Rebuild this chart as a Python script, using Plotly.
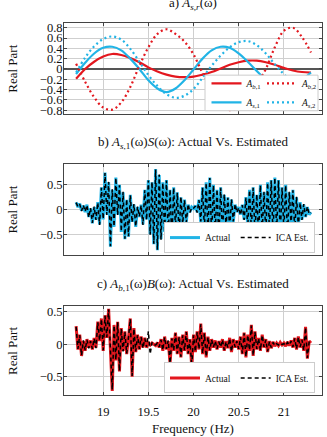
import plotly.graph_objects as go

# ---------------- data ----------------
# Panel a: mixing coefficients, sampled every 0.1 Hz from 18.7 Hz
FREQ_A_START, FREQ_A_STEP = 18.7, 0.1
A_B1 = [-0.19, 0.00, 0.14, 0.24, 0.29, 0.27, 0.21, 0.13, 0.03, -0.05,
        -0.11, -0.15, -0.16, -0.15, -0.11, -0.06, 0.01, 0.08, 0.13, 0.16,
        0.16, 0.13, 0.08, 0.02, -0.03, -0.06, -0.07]
A_B2 = [0.10, -0.25, -0.55, -0.75, -0.79, -0.65, -0.35, 0.06, 0.42, 0.68,
        0.77, 0.68, 0.53, 0.28, -0.08, -0.38, -0.65, -0.80, -0.74, -0.55,
        -0.30, 0.00, 0.42, 0.74, 0.80, 0.62, 0.32]
A_S1 = [-0.10, 0.12, 0.30, 0.41, 0.43, 0.36, 0.20, 0.00, -0.22, -0.38,
        -0.45, -0.38, -0.22, -0.01, 0.20, 0.36, 0.43, 0.41, 0.30, 0.14,
        -0.04, -0.22, -0.38, -0.45, -0.36, -0.22, -0.07]
A_S2 = [-0.07, 0.22, 0.44, 0.58, 0.63, 0.57, 0.39, 0.14, -0.12, -0.33,
        -0.49, -0.56, -0.52, -0.39, -0.17, 0.06, 0.26, 0.42, 0.52, 0.54,
        0.46, 0.30, 0.09, -0.10, -0.26, -0.30, -0.15]

# Panels b, c: spectra sampled every 0.02 Hz from 18.7 Hz
FREQ_N_START, FREQ_N_STEP = 18.7, 0.02
B_ACTUAL = [0.15, 0.05, 0.12, -0.02, 0.08,
            -0.05, 0.10, -0.15, 0.02, -0.28,
            0.05, -0.20, 0.15, -0.30, 0.45,
            -0.20, 0.75, -0.10, 0.55, -0.75,
            0.40, -0.35, 0.65, -0.10, 0.50,
            -0.45, 0.35, -0.60, 0.20, -0.55,
            0.30, -0.25, 0.10, -0.35, 0.05,
            -0.15, 0.10, -0.30, 0.40, -0.20,
            0.60, -0.50, 0.55, -0.70, 0.82,
            -0.82, 0.70, -0.60, 0.55, -0.45,
            0.60, -0.55, 0.40, -0.65, 0.45,
            -0.35, 0.35, -0.50, 0.25, -0.30,
            0.20, -0.25, 0.10, -0.05, 0.05,
            0.02, 0.08, -0.05, 0.20, -0.25,
            0.45, -0.40, 0.55, -0.50, 0.65,
            -0.55, 0.50, -0.45, 0.40, -0.60,
            0.45, -0.50, 0.30, -0.35, 0.25,
            -0.40, 0.20, -0.25, 0.10, -0.05,
            0.05, -0.10, 0.10, -0.20, 0.25,
            -0.35, 0.40, -0.40, 0.45, -0.50,
            0.30, -0.55, 0.50, -0.45, 0.35,
            -0.50, 0.55, -0.40, 0.60, -0.55,
            0.65, -0.45, 0.60, -0.50, 0.45,
            -0.40, 0.50, -0.55, 0.35, -0.30,
            0.40, -0.45, 0.25, -0.35, 0.15,
            -0.20, 0.10, -0.15, 0.05, -0.10,
            -0.05]
B_EST = [0.14, 0.06, 0.11, -0.03, 0.09,
         -0.04, 0.09, -0.16, 0.03, -0.27,
         0.06, -0.21, 0.14, -0.31, 0.44,
         -0.19, 0.74, -0.11, 0.56, -0.74,
         0.41, -0.34, 0.64, -0.11, 0.49,
         -0.44, 0.36, -0.59, 0.21, -0.54,
         0.29, -0.26, 0.11, -0.34, 0.06,
         -0.14, 0.09, -0.31, 0.39, -0.21,
         0.59, -0.51, 0.56, -0.69, 0.81,
         -0.81, 0.71, -0.61, 0.54, -0.46,
         0.59, -0.54, 0.41, -0.64, 0.44,
         -0.36, 0.34, -0.49, 0.26, -0.29,
         0.19, -0.26, 0.11, -0.06, 0.04,
         0.03, 0.07, -0.06, 0.19, -0.24,
         0.44, -0.41, 0.54, -0.51, 0.64,
         -0.54, 0.49, -0.46, 0.41, -0.59,
         0.44, -0.51, 0.31, -0.34, 0.24,
         -0.39, 0.21, -0.24, 0.11, -0.06,
         0.04, -0.11, 0.09, -0.21, 0.24,
         -0.34, 0.39, -0.41, 0.44, -0.49,
         0.31, -0.54, 0.49, -0.46, 0.36,
         -0.49, 0.54, -0.41, 0.59, -0.54,
         0.64, -0.46, 0.59, -0.51, 0.44,
         -0.41, 0.49, -0.54, 0.36, -0.31,
         0.39, -0.44, 0.26, -0.34, 0.14,
         -0.21, 0.11, -0.14, 0.06, -0.09,
         -0.06]
C_ACTUAL = [0.28, -0.08, 0.15, -0.18, 0.05,
            -0.10, 0.08, -0.05, 0.06, -0.08,
            0.10, -0.05, 0.35, 0.05, 0.40,
            -0.10, 0.45, 0.10, 0.55, -0.15,
            -0.72, 0.30, -0.25, 0.35, -0.42,
            0.25, -0.10, 0.20, -0.15, 0.10,
            0.40, -0.50, 0.25, -0.12, 0.15,
            -0.08, 0.12, -0.05, 0.10, -0.05,
            0.02, -0.01, 0.02, 0.00, -0.02,
            0.03, -0.05, 0.08, -0.10, 0.12,
            -0.08, 0.05, -0.30, 0.10, -0.10,
            0.18, -0.15, 0.12, -0.20, 0.15,
            -0.10, 0.20, -0.15, 0.08, -0.35,
            0.15, -0.12, 0.20, -0.08, 0.32,
            -0.15, 0.18, -0.20, 0.12, -0.10,
            0.08, -0.05, 0.06, -0.08, 0.05,
            -0.05, 0.08, -0.10, 0.05, -0.06,
            0.10, -0.12, 0.08, -0.05, 0.06,
            -0.08, 0.12, -0.15, 0.18, -0.20,
            0.15, -0.10, 0.30, -0.18, 0.20,
            -0.08, 0.10, -0.10, 0.15, -0.05,
            0.08, -0.12, 0.05, -0.06, 0.04,
            -0.03, 0.02, -0.02, 0.03, -0.01,
            0.02, -0.03, 0.04, -0.02, 0.06,
            -0.05, 0.10, -0.08, 0.12, -0.05,
            0.08, -0.10, 0.27, -0.22, 0.05,
            0.02]
C_EST = [0.27, -0.07, 0.14, -0.17, 0.06,
         -0.09, 0.07, -0.06, 0.05, -0.07,
         0.09, -0.06, 0.34, 0.06, 0.39,
         -0.09, 0.44, 0.11, 0.54, -0.14,
         -0.70, 0.29, -0.24, 0.34, -0.41,
         0.24, -0.11, 0.19, -0.14, 0.11,
         0.39, -0.49, 0.24, -0.11, 0.14,
         -0.07, 0.11, -0.06, 0.09, -0.04,
         0.20, -0.15, 0.03, -0.01, -0.01,
         0.02, -0.04, 0.07, -0.09, 0.11,
         -0.07, 0.06, -0.29, 0.09, -0.09,
         0.17, -0.14, 0.11, -0.19, 0.14,
         -0.09, 0.19, -0.14, 0.07, -0.34,
         0.14, -0.11, 0.19, -0.07, 0.31,
         -0.14, 0.17, -0.19, 0.11, -0.09,
         0.07, -0.04, 0.05, -0.07, 0.04,
         -0.04, 0.07, -0.09, 0.04, -0.05,
         0.09, -0.11, 0.07, -0.04, 0.05,
         -0.07, 0.11, -0.14, 0.17, -0.19,
         0.14, -0.09, 0.29, -0.17, 0.19,
         -0.07, 0.09, -0.09, 0.14, -0.04,
         0.07, -0.11, 0.04, -0.05, 0.03,
         -0.02, 0.01, -0.01, 0.02, 0.00,
         0.01, -0.02, 0.03, -0.01, 0.05,
         -0.04, 0.09, -0.07, 0.11, -0.04,
         0.07, -0.09, 0.26, -0.21, 0.04,
         0.01]

X_TICKS = [19, 19.5, 20, 20.5, 21]


def freq_grid(start, step, n):
    return [round(start + step * i, 4) for i in range(n)]


FA = freq_grid(FREQ_A_START, FREQ_A_STEP, len(A_B1))
FN = freq_grid(FREQ_N_START, FREQ_N_STEP, len(B_ACTUAL))

# ---------------- style ----------------
SERIF = "Liberation Serif"
RED = "#E3171E"
CYAN = "#21B4E6"
H = 437.0
L_M, R_M = 64, 5
PW = 327 - L_M - R_M


def py(p):  # pixel row -> paper fraction
    return 1 - p / H


def px(p):  # pixel column -> paper fraction
    return (p - L_M) / PW


fig = go.Figure()

# panel a
fig.add_trace(go.Scatter(x=FA, y=A_B1, mode="lines", name="<i>A</i><sub><i>b</i>,1</sub>",
                         line=dict(color=RED, width=2.2, shape="spline"),
                         xaxis="x", yaxis="y", legend="legend"))
fig.add_trace(go.Scatter(x=FA, y=A_S1, mode="lines", name="<i>A</i><sub><i>s</i>,1</sub>",
                         line=dict(color=CYAN, width=2.2, shape="spline"),
                         xaxis="x", yaxis="y", legend="legend"))
fig.add_trace(go.Scatter(x=FA, y=A_B2, mode="lines", name="<i>A</i><sub><i>b</i>,2</sub>",
                         line=dict(color=RED, width=2.2, shape="spline", dash="2px,3px"),
                         xaxis="x", yaxis="y", legend="legend4"))
fig.add_trace(go.Scatter(x=FA, y=A_S2, mode="lines", name="<i>A</i><sub><i>s</i>,2</sub>",
                         line=dict(color=CYAN, width=2.2, shape="spline", dash="2px,3px"),
                         xaxis="x", yaxis="y", legend="legend4"))

# panel b
fig.add_trace(go.Scatter(x=FN, y=B_ACTUAL, mode="lines", name="Actual",
                         line=dict(color=CYAN, width=3),
                         xaxis="x2", yaxis="y2", legend="legend2"))
fig.add_trace(go.Scatter(x=FN, y=B_EST, mode="lines", name="ICA Est.",
                         line=dict(color="black", width=1.5, dash="4px,3px"),
                         xaxis="x2", yaxis="y2", legend="legend2"))

# panel c
fig.add_trace(go.Scatter(x=FN, y=C_ACTUAL, mode="lines", name="Actual",
                         line=dict(color=RED, width=3),
                         xaxis="x3", yaxis="y3", legend="legend3"))
fig.add_trace(go.Scatter(x=FN, y=C_EST, mode="lines", name="ICA Est.",
                         line=dict(color="black", width=1.5, dash="4px,3px"),
                         xaxis="x3", yaxis="y3", legend="legend3"))

tickfont = dict(family=SERIF, size=12.5, color="#111")
common = dict(showline=True, linecolor="#444", linewidth=1, mirror="ticks",
              ticks="inside", ticklen=3, tickcolor="#444",
              showgrid=True, gridcolor="#cfcfcf", gridwidth=1,
              zeroline=False, tickfont=tickfont)
ycommon = dict(common, ticklabelstandoff=-2)
XR = [18.566, 21.422]

fig.update_layout(
    width=327, height=437,
    margin=dict(l=L_M, r=R_M, t=0, b=0),
    paper_bgcolor="white", plot_bgcolor="white",
    font=dict(family=SERIF, size=12.5, color="#111"),
    xaxis=dict(domain=[0, 1], range=XR, tickvals=X_TICKS, showticklabels=False,
               anchor="y", **common),
    yaxis=dict(domain=[py(113.3), py(21.7)], range=[-0.875, 0.883], dtick=0.2, tick0=0,
               anchor="x", **{**ycommon, "zeroline": True, "zerolinecolor": "#555",
                              "zerolinewidth": 1.5}),
    xaxis2=dict(domain=[0, 1], range=XR, tickvals=X_TICKS, showticklabels=False,
                anchor="y2", **common),
    yaxis2=dict(domain=[py(256), py(164)], range=[-0.92, 0.92], dtick=0.5, tick0=0,
                anchor="x2", **ycommon),
    xaxis3=dict(domain=[0, 1], range=XR, tickvals=X_TICKS, showticklabels=True,
                anchor="y3", ticklabelstandoff=5, **common),
    yaxis3=dict(domain=[py(398), py(307.7)], range=[-0.79, 0.59], dtick=0.5, tick0=0,
                anchor="x3", **ycommon),
    legend=dict(x=px(206.5), xanchor="left", y=py(92), yanchor="middle",
                orientation="v", bgcolor="rgba(0,0,0,0)", borderwidth=0,
                font=dict(family=SERIF, size=9.5, color="#111"),
                itemwidth=30, tracegroupgap=0),
    legend4=dict(x=px(262), xanchor="left", y=py(92), yanchor="middle",
                 orientation="v", bgcolor="rgba(0,0,0,0)", borderwidth=0,
                 font=dict(family=SERIF, size=9.5, color="#111"),
                 itemwidth=30, tracegroupgap=0),
    legend2=dict(x=px(315), xanchor="right", y=py(254), yanchor="bottom",
                 orientation="h", bgcolor="white", bordercolor="#cccccc", borderwidth=1,
                 font=dict(family=SERIF, size=9.5, color="#111"), itemwidth=30),
    legend3=dict(x=px(315), xanchor="right", y=py(396), yanchor="bottom",
                 orientation="h", bgcolor="white", bordercolor="#cccccc", borderwidth=1,
                 font=dict(family=SERIF, size=9.5, color="#111"), itemwidth=30),
    shapes=[dict(type="rect", xref="paper", yref="paper",
                 x0=px(205), x1=px(318), y0=py(110), y1=py(74),
                 fillcolor="white", line=dict(color="#cccccc", width=1), layer="above")],
)

ann_font = dict(family=SERIF, size=13, color="#111")
annotations = [
    dict(text="a) <i>A</i><sub><i>s,r</i></sub>(ω)", x=0.5, y=py(2), yanchor="middle"),
    dict(text="b) <i>A</i><sub><i>s</i>,1</sub>(ω)<i>S</i>(ω): Actual Vs. Estimated",
         x=0.5, y=py(142), yanchor="middle"),
    dict(text="c) <i>A</i><sub><i>b</i>,1</sub>(ω)<i>B</i>(ω): Actual Vs. Estimated",
         x=0.5, y=py(286), yanchor="middle"),
    dict(text="Frequency (Hz)", x=0.5, y=py(431), yanchor="middle"),
    dict(text="Real Part", x=px(13), y=py(67.5), textangle=-90, yanchor="middle"),
    dict(text="Real Part", x=px(13), y=py(210), textangle=-90, yanchor="middle"),
    dict(text="Real Part", x=px(13), y=py(353), textangle=-90, yanchor="middle"),
]
for a in annotations:
    a.update(xref="paper", yref="paper", showarrow=False, xanchor="center", font=ann_font)
fig.update_layout(annotations=annotations)

fig.write_html("out.html")
